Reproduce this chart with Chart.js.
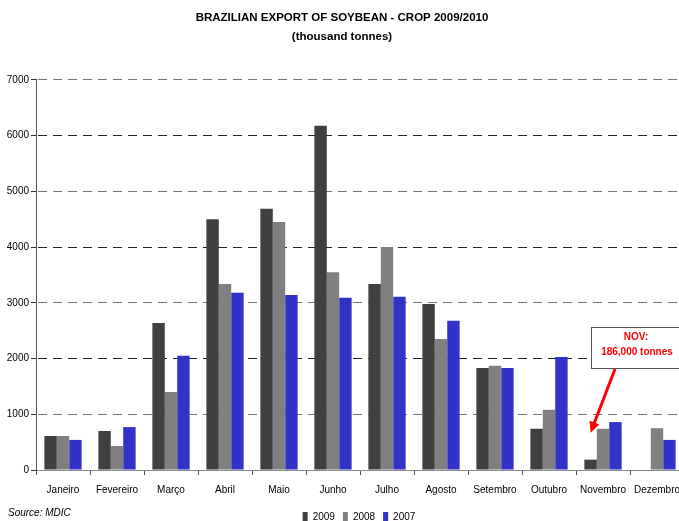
<!DOCTYPE html>
<html>
<head>
<meta charset="utf-8">
<script src="https://cdn.jsdelivr.net/npm/chart.js@4.4.1/dist/chart.umd.min.js"></script>
<style>
  body { margin: 0; background: #fff; overflow: hidden; }
  #wrap { width: 690px; height: 521px; }
</style>
</head>
<body>
<div id="wrap"><canvas id="grafico" width="690" height="521"></canvas></div>
<script>
// dados (mil toneladas)
const meses = ['Janeiro', 'Fevereiro', 'Março', 'Abril', 'Maio', 'Junho', 'Julho', 'Agosto', 'Setembro', 'Outubro', 'Novembro', 'Dezembro'];
const anos = ['2009', '2008', '2007'];
const valores2009 = [610, 700, 2640, 4500, 4690, 6180, 3340, 2980, 1830, 740, 186, null];
const valores2008 = [610, 430, 1400, 3340, 4450, 3550, 4000, 2350, 1870, 1080, 740, 750];
const valores2007 = [540, 770, 2050, 3180, 3140, 3090, 3110, 2680, 1830, 2030, 860, 540];
const cores = ['#404040', '#808080', '#3232c8'];
const ticksY = [0, 1000, 2000, 3000, 4000, 5000, 6000, 7000];

const fonte = '"Liberation Sans", Arial, sans-serif';

// empurra a legenda um pouco para a direita, como no original
const ajusteLegenda = {
    id: 'ajusteLegenda',
    afterLayout(chart) {
        chart.legend.left += 17;
        chart.legend.right += 17;
    }
};

// caixa de anotação de novembro + fonte dos dados
const anotacao = {
    id: 'anotacao',
    afterDraw(chart) {
        const ctx = chart.ctx;
        const barra = chart.getDatasetMeta(0).data[10];
        const pontaX = barra.x;
        const pontaY = barra.y - 27;

        ctx.save();
        // caixa
        ctx.fillStyle = '#fff';
        ctx.strokeStyle = '#555';
        ctx.lineWidth = 1;
        ctx.fillRect(591.5, 327.5, 110, 41);
        ctx.strokeRect(591.5, 327.5, 110, 41);
        ctx.fillStyle = '#ff0000';
        ctx.font = 'bold 10px ' + fonte;
        ctx.textAlign = 'center';
        ctx.textBaseline = 'middle';
        ctx.fillText('NOV:', 636, 337);
        ctx.fillText('186,000 tonnes', 637, 352);

        // seta
        const inicioX = 615, inicioY = 369;
        const ang = Math.atan2(pontaY - inicioY, pontaX - inicioX);
        ctx.strokeStyle = '#ff0000';
        ctx.lineWidth = 3;
        ctx.beginPath();
        ctx.moveTo(inicioX, inicioY);
        ctx.lineTo(pontaX - 8 * Math.cos(ang), pontaY - 8 * Math.sin(ang));
        ctx.stroke();
        ctx.beginPath();
        ctx.moveTo(pontaX, pontaY);
        ctx.lineTo(pontaX - 12 * Math.cos(ang - 0.45), pontaY - 12 * Math.sin(ang - 0.45));
        ctx.lineTo(pontaX - 12 * Math.cos(ang + 0.45), pontaY - 12 * Math.sin(ang + 0.45));
        ctx.closePath();
        ctx.fill();

        // fonte
        ctx.fillStyle = '#000';
        ctx.font = 'italic 10px ' + fonte;
        ctx.textAlign = 'left';
        ctx.fillText('Source: MDIC', 8, 513);
        ctx.restore();
    }
};

const ctx = document.getElementById('grafico').getContext('2d');
new Chart(ctx, {
    type: 'bar',
    data: {
        labels: meses,
        datasets: [
            { label: anos[0], data: valores2009, backgroundColor: cores[0] },
            { label: anos[1], data: valores2008, backgroundColor: cores[1] },
            { label: anos[2], data: valores2007, backgroundColor: cores[2] }
        ]
    },
    options: {
        responsive: false,
        animation: false,
        layout: { padding: { left: 0, right: 6, top: 0, bottom: -11 } },
        datasets: { bar: { barPercentage: 1, categoryPercentage: 0.69 } },
        plugins: {
            title: {
                display: true,
                text: ['BRAZILIAN EXPORT OF SOYBEAN - CROP 2009/2010', '(thousand tonnes)'],
                color: '#000',
                font: { family: fonte, size: 11.5, weight: 'bold', lineHeight: 1.65 },
                padding: { top: 8, bottom: 34 }
            },
            legend: {
                position: 'bottom',
                labels: {
                    color: '#000',
                    font: { family: fonte, size: 10 },
                    boxWidth: 5,
                    boxHeight: 10,
                    padding: 8
                }
            },
            tooltip: { enabled: false }
        },
        scales: {
            x: {
                grid: {
                    offset: true,
                    drawOnChartArea: false,
                    tickLength: 5,
                    tickColor: '#555'
                },
                border: { color: '#888', width: 1 },
                ticks: {
                    color: '#000',
                    font: { family: fonte, size: 10 },
                    padding: 9,
                    maxRotation: 0,
                    minRotation: 0,
                    autoSkip: false
                },
                afterFit(scale) { scale.height = 34; }
            },
            y: {
                min: 0,
                max: 7000,
                afterBuildTicks(scale) { scale.ticks = ticksY.map(v => ({ value: v })); },
                grid: {
                    color: c => c.tick.value === 0 ? 'rgba(0,0,0,0)' : (c.index % 2 ? '#777' : '#222'),
                    lineWidth: 1,
                    tickLength: 5,
                    tickColor: '#333',
                    tickBorderDash: []
                },
                border: { color: '#555', width: 1, dash: [9, 6], dashOffset: -16 },
                ticks: {
                    color: '#000',
                    font: { family: fonte, size: 10 },
                    padding: 2,
                    callback: v => String(v)
                },
                afterFit(scale) { scale.width = 36; }
            }
        }
    },
    plugins: [ajusteLegenda, anotacao]
});
</script>
</body>
</html>
